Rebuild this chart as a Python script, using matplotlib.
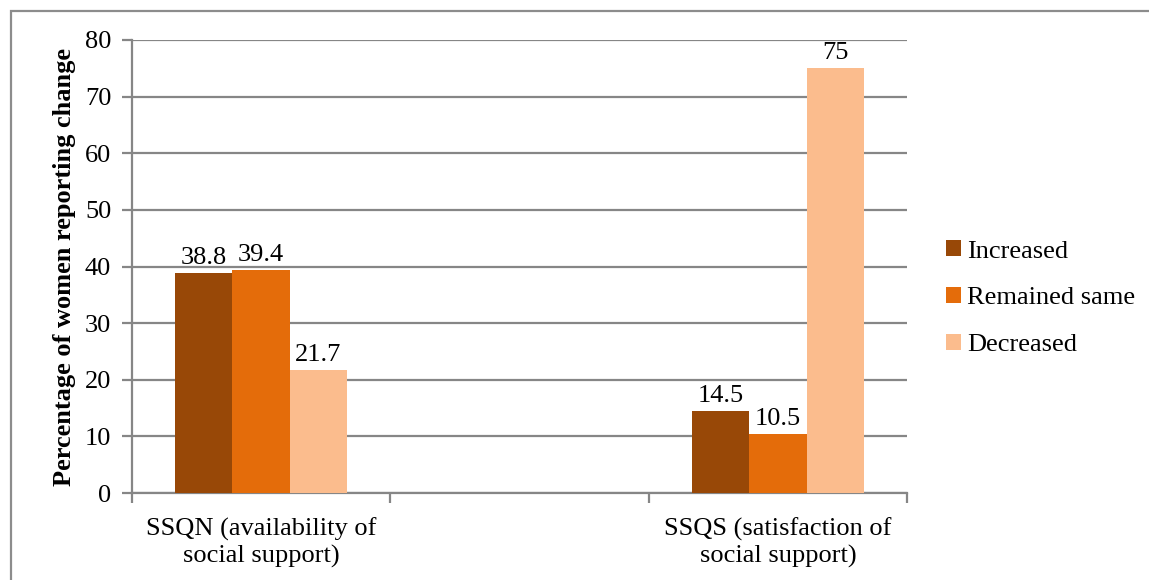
import matplotlib
matplotlib.use("Agg")
import matplotlib.pyplot as plt
import numpy as np
from matplotlib.patches import Rectangle

# données
categories = ["SSQN (availability of\nsocial support)", "", "SSQS (satisfaction of\nsocial support)"]
series = ["Increased", "Remained same", "Decreased"]
increased = [38.8, None, 14.5]
remained = [39.4, None, 10.5]
decreased = [21.7, None, 75]
labels = [["38.8", "14.5"], ["39.4", "10.5"], ["21.7", "75"]]
colors = ["#984807", "#E46C0A", "#FBBC8D"]

plt.rcParams["font.family"] = ["Liberation Serif", "DejaVu Serif"]
fs = 19

fig = plt.figure(figsize=(11.49, 5.80), dpi=100)
ax = fig.add_axes([132 / 1149, 1 - 493 / 580, 775 / 1149, 453 / 580])

x = np.arange(len(categories))
width = 0.222
grid_col = "#868686"

for i, (name, vals, col) in enumerate(zip(series, [increased, remained, decreased], colors)):
    idx = [k for k, v in enumerate(vals) if v is not None]
    v = [vals[k] for k in idx]
    pos = x[idx] + (i - 1) * width
    bars = ax.bar(pos, v, width=width, color=col, label=name, zorder=3)
    for b, txt in zip(bars, labels[i]):
        ax.text(b.get_x() + b.get_width() / 2, b.get_height() + 0.7, txt,
                ha="center", va="bottom", fontsize=fs)

ax.set_xlim(-0.5, 2.5)
ax.set_ylim(0, 80)
ax.set_yticks(range(0, 81, 10))
ax.yaxis.grid(True, color=grid_col, linewidth=1.6, zorder=0)
ax.set_axisbelow(True)

# graduations de catégories entre les groupes
ax.set_xticks(x)
ax.set_xticklabels(categories, fontsize=fs, linespacing=1.2)
ax.tick_params(axis="x", length=0, pad=18)
ax.set_xticks([-0.5, 0.5, 1.5, 2.5], minor=True)
ax.tick_params(axis="x", which="minor", length=7, width=1.6, color=grid_col)
ax.tick_params(axis="y", length=7, width=1.6, color=grid_col, labelsize=fs, pad=8)

for s in ["top", "right"]:
    ax.spines[s].set_visible(False)
for s in ["left", "bottom"]:
    ax.spines[s].set_color(grid_col)
    ax.spines[s].set_linewidth(1.6)

ax.set_ylabel("Percentage of women reporting change", fontsize=fs, fontweight="bold", labelpad=6)

leg = ax.legend(loc="center left", bbox_to_anchor=(1.02, 0.43), frameon=False, fontsize=fs,
                handlelength=0.55, handleheight=0.55, handletextpad=0.25, labelspacing=0.93)

# cadre extérieur
fig.patches.append(Rectangle((11 / 1149, -0.1), 1.2, 1 - 11 / 580 + 0.1, transform=fig.transFigure,
                             fill=False, edgecolor="#8c8c8c", linewidth=1.6))

fig.savefig("out.png", dpi=100)
